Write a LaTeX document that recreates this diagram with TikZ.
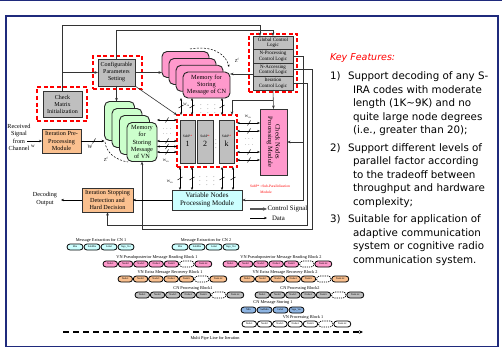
\documentclass[tikz,border=0pt]{standalone}
\usepackage{fontspec}
\setmainfont{Liberation Serif}
\newfontfamily\keyfont{DejaVu Sans}
\usetikzlibrary{arrows.meta}
\definecolor{navy}{HTML}{1F2A7C}
\definecolor{grayfill}{HTML}{BFBFBF}
\definecolor{pinkfill}{HTML}{FF99CC}
\definecolor{greenfill}{HTML}{CCFFCC}
\definecolor{orangefill}{HTML}{FAC08F}
\definecolor{cyanfill}{HTML}{CCFFFF}
\definecolor{bluefill}{HTML}{8DB4E2}
\newcommand{\myfs}[2]{\fontsize{#1}{#2}\selectfont}
\newcommand{\myslashH}[2]{\draw[line width=0.5pt] (#1-1.5,#2+2.5) -- (#1+1.5,#2-2.5);}
\newcommand{\myslashV}[2]{\draw[line width=0.5pt] (#1-2.5,#2+1.5) -- (#1+2.5,#2-1.5);}
\tikzset{
  every node/.style={inner sep=0pt, outer sep=0pt},
  gbox/.style={draw=black!80, line width=0.9pt, fill=grayfill, align=center, font=\myfs{6}{7}},
  obox/.style={draw=black!80, line width=0.9pt, fill=orangefill, align=center, font=\myfs{6.2}{7.4}},
  rdash/.style={draw=red, line width=1.3pt, dash pattern=on 4pt off 2.5pt},
  memp/.style={draw=black!85, line width=0.9pt, fill=pinkfill, rounded corners=5pt, minimum width=47pt, minimum height=26pt},
  memg/.style={draw=black!85, line width=0.9pt, fill=greenfill, rounded corners=5pt, minimum width=30pt, minimum height=39pt},
  ctl/.style={draw=black!80, line width=0.6pt, -{Stealth[length=3.5pt,width=2.6pt]}},
  dat/.style={draw=black, line width=0.6pt},
  darr/.style={dat, {Stealth[length=2.8pt,width=2.2pt]}-{Stealth[length=2.8pt,width=2.2pt]}},
  sarr/.style={dat, -{Stealth[length=3pt,width=2.4pt]}},
  wl/.style={font=\myfs{3.6}{4}},
  zarc/.style={draw=black, line width=0.5pt, dash pattern=on 2pt off 1.5pt},
  pill/.style={draw=black, line width=0.8pt, rounded corners=3pt, minimum width=14.5pt, minimum height=6pt, font=\myfs{2.6}{3}},
  dpill/.style={draw=black, line width=0.7pt, dash pattern=on 1.2pt off 1pt, rounded corners=3pt, minimum width=14.5pt, minimum height=6pt, fill=white},
  rowlab/.style={font=\myfs{4.3}{5}},
  keyline/.style={anchor=base west, font=\keyfont\myfs{10.3}{12}},
}
\newcommand{\noderow}[4]{%
  \foreach \k in {1,...,5} { \node[pill, fill=#4] (#1\k) at ({#2+7.25+(\k-1)*15.3},#3) {Node\k}; }
  \node[dpill] (#1d) at ({#2+7.25+5*15.3},#3) {};
  \node[pill, fill=#4, minimum width=17pt] (#1e) at ({#2+100.3},#3) {Node dc};
}
\begin{document}
\begin{tikzpicture}[x=1pt,y=-1pt]
\useasboundingbox (0,0) rectangle (502,350);
\fill[white] (0,0) rectangle (502,350);
\draw[navy, line width=1.2pt] (0,0.6) -- (502,0.6);
\draw[navy, line width=1.5pt] (6,16) rectangle (498,346.5);

% ---------- boxes ----------
\node[gbox, minimum width=39pt, minimum height=26pt] (chk) at (62.5,104) {Check\\Matrix\\Initialization};
\node[rdash, minimum width=50pt, minimum height=34pt] (chkr) at (62,104) {};
\node[gbox, minimum width=37pt, minimum height=27pt] (conf) at (116.5,72.5) {Configurable\\Parameters\\Setting};
\node[rdash, minimum width=49pt, minimum height=33pt] (confr) at (117.5,72.5) {};

\node[memp] (cnm3) at (185.5,64.5) {};
\node[memp] (cnm2) at (192.5,71.5) {};
\node[memp] (cnm1) at (199.5,78.3) {};
\node[memp, align=center, font=\myfs{6.3}{7.3}] (cnm) at (206.5,85) {Memory for\\Storing\\Message of CN};

\node[memg] (vnm3) at (119.5,121) {};
\node[memg] (vnm2) at (127,128) {};
\node[memg] (vnm1) at (134.5,135) {};
\node[memg, align=center, font=\myfs{6.3}{7.2}] (vnm) at (142,142) {Memory\\for\\Storing\\Message\\of VN};

\node[obox, minimum width=39pt, minimum height=24pt] (pre) at (61.5,141) {Iteration Pre-\\Processing\\Module};
\node[obox, minimum width=51pt, minimum height=24pt] (stop) at (107.5,200) {Iteration Stopping\\Detection and\\Hard Decision};

\node[gbox, minimum width=40pt, minimum height=13.5pt, font=\myfs{5}{5.6}] (glob) at (273,42.75) {Global Control\\Logic};
\node[gbox, minimum width=40pt, minimum height=13.5pt, font=\myfs{5}{5.6}] (nproc) at (273,56.25) {N-Processing\\Control Logic};
\node[gbox, minimum width=40pt, minimum height=13.5pt, font=\myfs{5}{5.6}] (nacc) at (273,69.75) {N-Accessing\\Control Logic};
\node[gbox, minimum width=40pt, minimum height=13.5pt, font=\myfs{5}{5.6}] (iter) at (273,83.25) {Iteration\\Control Logic};
\node[rdash, minimum width=48pt, minimum height=58pt] (ctlr) at (273,63) {};

\node[draw=black!80, line width=0.9pt, fill=pinkfill, minimum width=27pt, minimum height=66pt] (cnp) at (273.5,142) {};
\node[rotate=-90, align=center, font=\myfs{6.5}{7.5}] (cnpt) at (cnp.center) {Check Nodes\\Processing Module};

\node[draw=black!80, line width=0.9pt, fill=cyanfill, minimum width=70pt, minimum height=20pt, align=center, font=\myfs{7}{8}] (vnp) at (207,200) {Variable Nodes\\Processing Module};

\node[gbox, minimum width=15pt, minimum height=43pt] (sp1) at (187.5,141.5) {};
\node[gbox, minimum width=16pt, minimum height=43pt] (sp2) at (205,141.5) {};
\node[gbox, minimum width=15pt, minimum height=43pt] (spk) at (226.5,141.5) {};
\node[font=\myfs{3.5}{4}] (sp1a) at (187.5,136.5) {SubP\textcolor{red}{*}};
\node[font=\myfs{3.5}{4}] (sp2a) at (205,136.5) {SubP\textcolor{red}{*}};
\node[font=\myfs{3.5}{4}] (spka) at (226.5,136.5) {SubP\textcolor{red}{*}};
\node[font=\myfs{8}{8}] (sp1b) at (187.5,144) {1};
\node[font=\myfs{8}{8}] (sp2b) at (205,144) {2};
\node[font=\myfs{8}{8}] (spkb) at (226.5,144) {k};
\node[font=\myfs{5}{5}] (spd) at (216,141) {$\vdots$};
\node[rdash, minimum width=60pt, minimum height=52pt] (subr) at (207,141) {};

% ---------- control connectors ----------
\draw[ctl] (chk.north) -- (chk.north |- 0,25) -| ([xshift=-13pt]glob.north);
\draw[ctl] (conf.north) -- (conf.north |- 0,30) -| (glob.north);
\coordinate (br1) at (chk.north |- conf.west);
\draw[ctl] (br1) -- (conf.west);
\draw[ctl] (conf.east) -- (conf.east -| cnm3.west);
\draw[ctl] (conf.south) -- (conf.south |- vnm3.north);
\draw[ctl] (conf.south east) -- (subr.north west);
\draw[ctl] (nacc.west |- 0,74) -- (cnm.east |- 0,74);
\draw[ctl] (iter.south) -- (cnp.north);
\coordinate (j1) at (iter.south |- 0,100);
\draw[ctl] (j1) -| ([xshift=25pt]subr.north);
\draw[ctl] (nproc.east) -- (nproc.east -| 303,0) |- (vnp.east);
\coordinate (j2) at (303,142);
\draw[ctl] (j2) -- (cnp.east);
\draw[ctl] (nacc.east) -- (nacc.east -| 312,0) |- (vnm.south |- 0,229) -- (vnm.south);
\draw[ctl] (iter.east) -- (iter.east -| 307,0) |- (stop.south |- 0,225) -- (stop.south);

% ---------- data connectors ----------
\node[align=center, font=\myfs{6.2}{7.5}] (rx) at (19,137.5) {Received\\Signal\\from\\Channel};
\coordinate (rxa) at (27,141);
\draw[sarr] (rxa) -- (pre.west);
\node[wl, font=\myfs{5}{5}] (wrx) at (33,146.5) {w};
\draw[sarr] (pre.east) -- (pre.east -| vnm3.west);
\myslashH{94}{141}
\node[wl, font=\myfs{5}{5}] (wpre) at (90,147) {W};
\coordinate (dout) at (61,200);
\draw[sarr] (stop.west) -- (dout);
\node[align=center, font=\myfs{6.2}{7.5}] (dec) at (45,199) {Decoding\\Output};
\draw[sarr] (vnp.west) -- (stop.east);

\foreach \yy in {120,141,146.5,152} {
  \draw[darr] (vnm.east |- 0,\yy) -- (subr.west |- 0,\yy);
  \myslashH{167}{\yy}
}
\node[font=\myfs{5}{5}] (dl1) at (167,129.5) {$\cdots$};
\node[font=\myfs{5}{5}] (dl2) at (167,134.5) {$\cdots$};
\foreach \yy in {123,131,152,160} {
  \draw[darr] (subr.east |- 0,\yy) -- (cnp.west |- 0,\yy);
  \myslashH{249}{\yy}
}
\node[font=\myfs{5}{5}] (dr1) at (249,139) {$\cdots$};
\node[font=\myfs{5}{5}] (dr2) at (249,145) {$\cdots$};
\foreach \xx in {181,192,222} {
  \draw[darr] (cnm.south -| \xx,0) -- (subr.north -| \xx,0);
  \myslashV{\xx}{106.5}
}
\foreach \xx in {201,208,215} { \node[font=\myfs{5}{5}] at (\xx,106) {$\vdots$}; }
\foreach \xx in {180,192,222,233} {
  \draw[darr] (subr.south -| \xx,0) -- (vnp.north -| \xx,0);
  \myslashV{\xx}{178.5}
}
\foreach \xx in {200,207,214} { \node[font=\myfs{5}{5}] at (\xx,178) {$\vdots$}; }
\node[wl] (w1) at (186.5,104.5) {W\textsubscript{cn}};
\node[wl] (w2) at (248,116.5) {W\textsubscript{cn}};
\node[wl] (w3) at (166,161) {W\textsubscript{vn}};
\node[wl] (w4) at (170,181.5) {W\textsubscript{vn}};

\draw[zarc, -{Stealth[length=2.5pt,width=2pt]}] (190,49) .. controls (212,45) and (226,54) .. (229,67);
\node[wl, font=\myfs{4.5}{5}] (zf1) at (237,60) {Z\textsuperscript{f}};
\draw[zarc] (105,142) .. controls (106,152) and (115,160) .. (128,162);
\node[wl, font=\myfs{4.5}{5}] (zf2) at (106,159) {Z\textsuperscript{f}};

% ---------- legend & note ----------
\node[anchor=west, text=red, font=\myfs{3.6}{4}] (note1) at (250,186) {SubP* =Sub-Parallelization};
\node[text=red, font=\myfs{3.6}{4}] (note2) at (266,192.5) {Module};
\coordinate (lcs) at (250,209); \coordinate (lce) at (267,209);
\draw[draw=black!65, line width=1.2pt, -{Stealth[length=4pt,width=3.5pt]}] (lcs) -- (lce);
\node[anchor=west, font=\myfs{6.8}{8}] (lct) at (267.5,209) {Control Signal};
\coordinate (lds) at (250,218); \coordinate (lde) at (267,218);
\draw[sarr, line width=0.8pt] (lds) -- (lde);
\node[anchor=west, font=\myfs{6.8}{8}] (ldt) at (272,218) {Data};

% ---------- pipeline ----------
\node[rowlab] (l1a) at (101,240) {Message Extraction for CN 1};
\foreach \t/\xx [count=\i] in {Min/75,SubMin/92,Label/109,Sign\_Vec/126} { \node[pill, fill=cyanfill, minimum width=16pt] (m1\i) at (\xx,247) {\t}; }
\node[rowlab] (l1b) at (206,240) {Message Extraction for CN 2};
\foreach \t/\xx [count=\i] in {Min/180,SubMin/197,Label/214,Sign\_Vec/231} { \node[pill, fill=cyanfill, minimum width=16pt] (m2\i) at (\xx,247) {\t}; }

\node[rowlab] (l2a) at (157,257) {VN Pseudoposterior Message Reading Block 1};
\noderow{ra}{103}{264}{pinkfill}
\node[rowlab] (l2b) at (281,257) {VN Pseudoposterior Message Reading Block 2};
\noderow{rb}{223}{264}{pinkfill}

\node[rowlab] (l3a) at (170,272.5) {VN Extra Message Recovery Block 1};
\noderow{rc}{118}{279}{orangefill}
\node[rowlab] (l3b) at (285,272.5) {VN Extra Message Recovery Block 2};
\noderow{rd}{240}{279}{orangefill}

\node[rowlab] (l4a) at (193,288) {CN Processing Block1};
\noderow{re}{135}{295}{grayfill}
\node[rowlab] (l4b) at (300,288) {CN Processing Block2};
\noderow{rf}{255}{295}{grayfill}

\node[rowlab] (l5) at (273,303) {CN Message Storing 1};
\foreach \t/\xx [count=\i] in {Min/248.5,SubMin/264.5,Label/280.5,Sign\_Vec/296.5} { \node[pill, fill=bluefill, minimum width=15pt] (m5\i) at (\xx,310) {\t}; }

\node[rowlab] (l6) at (303,317.5) {VN Processing Block 1};
\noderow{rg}{242}{324}{white}

\coordinate (pipeS) at (63,332); \coordinate (pipeE) at (363,332);
\draw[line width=1.2pt, dash pattern=on 6pt off 4pt, -{Stealth[length=4pt,width=3.5pt]}] (pipeS) -- (pipeE);
\node[rowlab] (pl) at (215,338.5) {Multi Pipe Line for Iteration};

% ---------- key features ----------
\node[anchor=base west, font=\keyfont\itshape\myfs{9.5}{11}, text=red] (kf) at (330,60.5) {Key Features:};
\node[keyline] (k1n) at (330,79.5) {1)};
\node[keyline] (k1a) at (348,79.5) {Support decoding of any S-};
\node[keyline] (k1b) at (353,93) {IRA codes with moderate};
\node[keyline] (k1c) at (353,106.5) {length (1K\textasciitilde 9K) and no};
\node[keyline] (k1d) at (353,120) {quite large node degrees};
\node[keyline] (k1e) at (353,133.5) {(i.e., greater than 20);};
\node[keyline] (k2n) at (330,151) {2)};
\node[keyline] (k2a) at (348,151) {Support different levels of};
\node[keyline] (k2b) at (353,164.5) {parallel factor according};
\node[keyline] (k2c) at (353,178) {to the tradeoff between};
\node[keyline] (k2d) at (353,191.5) {throughput and hardware};
\node[keyline] (k2e) at (353,205) {complexity;};
\node[keyline] (k3n) at (330,222.5) {3)};
\node[keyline] (k3a) at (348,222.5) {Suitable for application of};
\node[keyline] (k3b) at (353,236) {adaptive communication};
\node[keyline] (k3c) at (353,249.5) {system or cognitive radio};
\node[keyline] (k3d) at (353,263) {communication system.};
\end{tikzpicture}
\end{document}
